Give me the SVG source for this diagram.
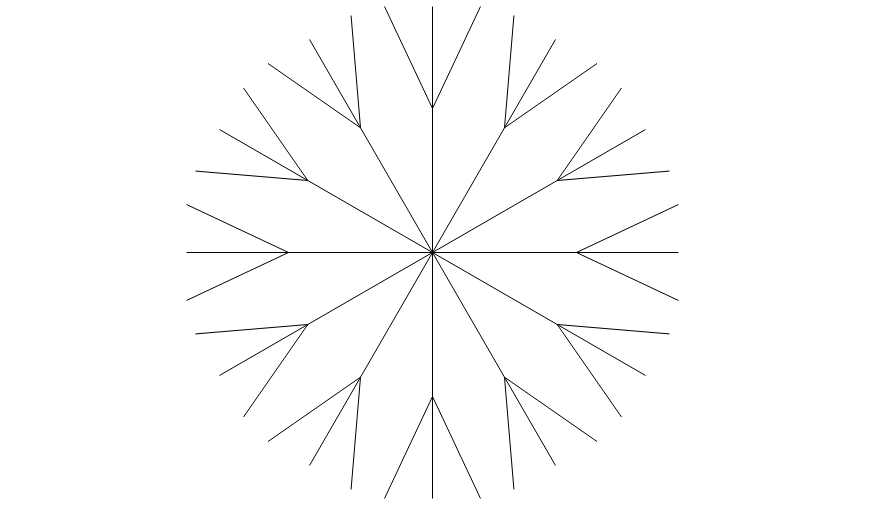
<svg xmlns="http://www.w3.org/2000/svg" width="870" height="505" viewBox="0 0 870 505">
<style>
.s{fill:none;stroke:#000;stroke-width:1}
</style>
<rect width="870" height="505" fill="#fff"/>
<g id="snowflake" class="s">
<path d="M432.5,252.5 L678.5,252.5 M678.5,204.5 L576.5,252.5 L678.5,300.5"/>
<path d="M432.5,252.5 L645.54,129.5 M621.53,87.96 L557.21,180.5 L669.51,171.07"/>
<path d="M432.5,252.5 L555.5,39.46 M513.93,15.49 L504.5,127.79 L597.04,63.47"/>
<path d="M432.5,252.5 L432.5,6.5 M384.51,6.53 L432.5,108.5 L480.49,6.53"/>
<path d="M432.5,252.5 L309.5,39.46 M267.96,63.47 L360.5,127.79 L351.07,15.49"/>
<path d="M432.5,252.5 L219.46,129.5 M195.49,171.07 L307.79,180.5 L243.47,87.96"/>
<path d="M432.5,252.5 L186.5,252.5 M186.53,204.51 L288.5,252.5 L186.53,300.49"/>
<path d="M432.5,252.5 L219.46,375.5 M195.49,333.93 L307.79,324.5 L243.47,417.04"/>
<path d="M432.5,252.5 L309.5,465.54 M267.96,441.53 L360.5,377.21 L351.07,489.51"/>
<path d="M432.5,252.5 L432.5,498.5 M384.51,498.47 L432.5,396.5 L480.49,498.47"/>
<path d="M432.5,252.5 L555.5,465.54 M513.93,489.51 L504.5,377.21 L597.04,441.53"/>
<path d="M432.5,252.5 L645.54,375.5 M621.53,417.04 L557.21,324.5 L669.51,333.93"/>
</g>
</svg>
